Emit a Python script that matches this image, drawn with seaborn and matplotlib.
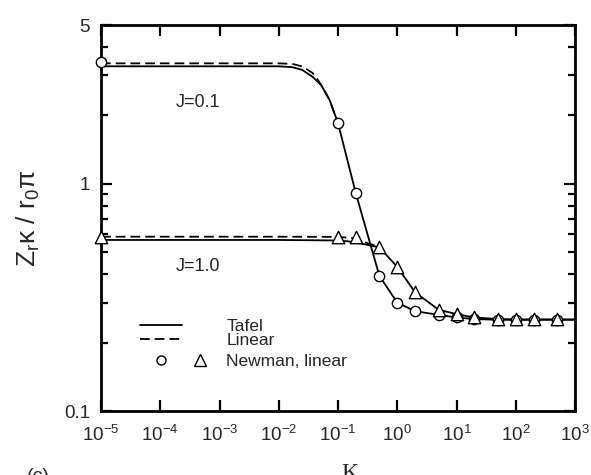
import matplotlib
matplotlib.use("Agg")
import matplotlib.pyplot as plt
import seaborn as sns
from matplotlib.lines import Line2D
from matplotlib.legend_handler import HandlerBase
from matplotlib.ticker import FixedLocator, NullLocator, LogLocator, LogFormatterSciNotation

# --- values ---
# J=0.1, Tafel (solid)
k_tafel_01 = [1e-5, 1e-2, 0.017, 0.025, 0.037, 0.052, 0.072, 0.1, 0.2, 0.5, 1, 2, 5, 10, 20, 50, 100, 200, 500, 1000]
z_tafel_01 = [3.29, 3.29, 3.26, 3.17, 2.96, 2.72, 2.34, 1.85, 0.908, 0.393, 0.300, 0.275, 0.265, 0.258, 0.254, 0.252, 0.252, 0.252, 0.252, 0.252]
# J=0.1, linear (dashed)
k_linear_01 = [1e-5, 1e-2, 0.017, 0.0255, 0.0375, 0.046, 0.052, 0.072, 0.1]
z_linear_01 = [3.39, 3.39, 3.37, 3.28, 3.07, 2.86, 2.72, 2.34, 1.85]
# J=1.0, Tafel (solid)
k_tafel_10 = [1e-5, 1e-2, 0.1, 0.15, 0.26, 0.5, 1, 2, 5, 10, 20, 50, 100, 200, 500, 1000]
z_tafel_10 = [0.566, 0.566, 0.563, 0.558, 0.544, 0.525, 0.431, 0.333, 0.279, 0.267, 0.258, 0.254, 0.253, 0.253, 0.253, 0.253]
# J=1.0, linear (dashed)
k_linear_10 = [1e-5, 1e-2, 0.1, 0.2, 0.3, 0.5]
z_linear_10 = [0.585, 0.585, 0.584, 0.575, 0.550, 0.528]
# Newman, linear
k_newman = [1e-5, 0.1, 0.2, 0.5, 1, 2, 5, 10, 20, 50, 100, 200, 500]
z_newman_01 = [3.43, 1.85, 0.908, 0.393, 0.300, 0.275, 0.265, 0.258, 0.254, 0.252, 0.252, 0.252, 0.252]
z_newman_10 = [0.582, 0.585, 0.585, 0.528, 0.431, 0.333, 0.279, 0.267, 0.258, 0.254, 0.254, 0.254, 0.254]

sns.set_style("ticks")
plt.rcParams["font.family"] = ["Liberation Sans", "DejaVu Sans"]
plt.rcParams["mathtext.fontset"] = "custom"
plt.rcParams["mathtext.rm"] = "Liberation Sans"
plt.rcParams["mathtext.it"] = "Liberation Sans:italic"
plt.rcParams["mathtext.default"] = "regular"
plt.rcParams["lines.scale_dashes"] = False

fig = plt.figure(figsize=(5.91, 4.75), dpi=100)
ax = fig.add_axes([101 / 591, 1 - 411 / 475, 474 / 591, 386 / 475])

dash = (0, (7, 3.6))
lw = 1.3
for k, z, ls in [(k_tafel_01, z_tafel_01, "-"), (k_linear_01, z_linear_01, dash),
                 (k_tafel_10, z_tafel_10, "-"), (k_linear_10, z_linear_10, dash)]:
    sns.lineplot(x=k, y=z, ax=ax, color="black", lw=lw, linestyle=ls,
                 estimator=None, sort=False, zorder=2)

sns.scatterplot(x=k_newman, y=z_newman_01, ax=ax, marker="o", s=55,
                facecolor="white", edgecolor="black", linewidth=1.0, zorder=4, clip_on=False)
sns.scatterplot(x=k_newman, y=z_newman_10, ax=ax, marker="^", s=80,
                facecolor="white", edgecolor="black", linewidth=1.0, zorder=4, clip_on=False)

ax.set_xscale("log")
ax.set_yscale("log")
ax.set_xlim(1e-5, 1e3)
ax.set_ylim(0.1, 5)

ax.xaxis.set_major_locator(LogLocator(base=10, numticks=20))
ax.xaxis.set_major_formatter(LogFormatterSciNotation())
ax.xaxis.set_minor_locator(NullLocator())
ax.yaxis.set_major_locator(FixedLocator([0.1, 1, 5]))
ax.yaxis.set_minor_locator(FixedLocator([0.2, 0.3, 0.4, 0.5, 0.6, 0.7, 0.8, 0.9, 2, 3, 4]))
ax.set_yticklabels(["0.1", "1", "5"])

for s in ax.spines.values():
    s.set_linewidth(2)
    s.set_color("black")
ax.tick_params(which="both", direction="in", top=True, right=True, color="black")
ax.tick_params(which="major", length=8, width=1.6, labelsize=13.5, pad=8)
ax.tick_params(axis="x", which="major", pad=10)
ax.tick_params(which="minor", length=4.8, width=1.6)

ax.set_xlabel("K", family=["Liberation Serif"], fontsize=17)
ax.xaxis.set_label_coords(0.524, -0.135)
ax.set_ylabel(r"$Z_r\kappa\ /\ r_0\pi$", fontsize=19)
ax.yaxis.set_label_coords(-0.125, 0.5)

ax.text(0.2036, 0.799, "J=0.1", transform=ax.transAxes, ha="center", va="center", fontsize=13)
ax.text(0.205, 0.374, "J=1.0", transform=ax.transAxes, ha="center", va="center", fontsize=13)


class PairHandler(HandlerBase):
    # circle and triangle side by side, triangle past the end of the line sample
    def create_artists(self, legend, orig_handle, xdescent, ydescent, width, height, fontsize, trans):
        out = []
        for h, fx in zip(orig_handle, (0.5, 1.43)):
            m = Line2D([fx * width - xdescent], [height / 2 - ydescent], marker=h.get_marker(),
                       ms=h.get_markersize(), mfc="white", mec="black", mew=1.0, ls="none")
            m.set_transform(trans)
            out.append(m)
        return out


leg_kw = dict(loc="upper left", frameon=False, fontsize=12.5, handlelength=2.42,
              handletextpad=2.57, borderpad=0, borderaxespad=0)

h_tafel = Line2D([], [], color="black", lw=lw)
h_lin = Line2D([], [], color="black", lw=lw, linestyle=dash)
leg1 = ax.legend([h_tafel, h_lin], ["Tafel", "Linear"], bbox_to_anchor=(0.082, 0.2396),
                 labelspacing=-0.06, **leg_kw)
ax.add_artist(leg1)

h_new = (Line2D([], [], marker="o", ms=6.5, ls="none"), Line2D([], [], marker="^", ms=8, ls="none"))
ax.legend([h_new], ["Newman, linear"], handler_map={tuple: PairHandler()},
          bbox_to_anchor=(0.082, 0.149), **leg_kw)

fig.text(27 / 591, 1 - 468 / 475, "(c)", fontsize=14, va="top", ha="left")

fig.savefig("out.png", dpi=100)
